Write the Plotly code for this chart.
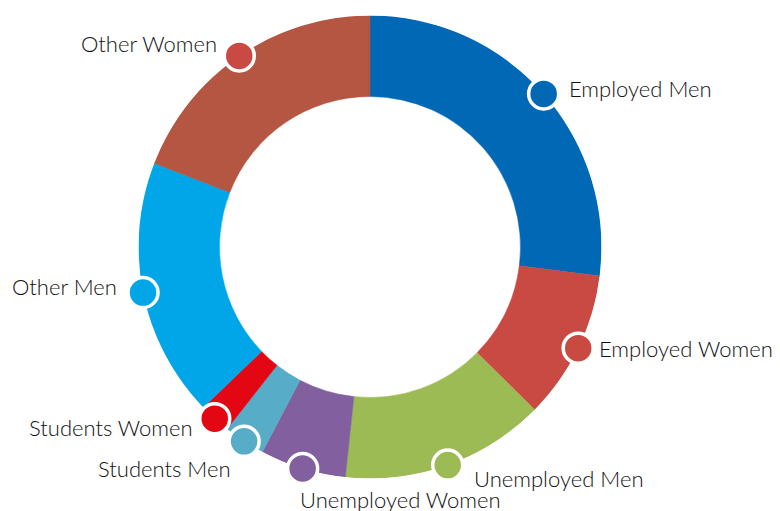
import math
import plotly.graph_objects as go

categories = ["Employed Men", "Employed Women", "Unemployed Men", "Unemployed Women",
              "Students Men", "Students Women", "Other Men", "Other Women"]
values = [27.0, 10.4, 14.3, 6.0, 2.9, 2.2, 18.1, 19.1]

slice_colors = ["#0068b5", "#c84a43", "#9dbb55", "#8260a0",
                "#57acc8", "#e30613", "#00a6e8", "#b45641"]
marker_colors = ["#0068b5", "#c84a43", "#9dbb55", "#8260a0",
                 "#57acc8", "#e30613", "#00a6e8", "#c84a43"]

# label placement style: (xanchor, xshift px, yshift px)
label_style = [("left", 23, 5), ("left", 19, 0), ("left", 24, -13), ("left", -5, -31),
               ("right", -11, -27), ("right", -20, -9), ("right", -24, 6), ("right", -20, 12)]

W, H = 780, 511
CX, CY, R = 370, 247, 231.5
HOLE = 0.65

total = sum(values)
widths = [v / total * 360 for v in values]
mids = []
acc = 0
for w in widths:
    mids.append(acc + w / 2)
    acc += w

fig = go.Figure()
fig.add_trace(go.Barpolar(
    theta=mids, width=widths, r=[1 - HOLE] * len(values), base=HOLE,
    marker=dict(color=slice_colors, line=dict(width=0.5, color=slice_colors)),
    hoverinfo="skip", showlegend=False,
))
fig.add_trace(go.Scatterpolar(
    theta=mids, r=[1] * len(values), mode="markers", cliponaxis=False,
    marker=dict(size=30, color=marker_colors, line=dict(color="white", width=3.5)),
    hoverinfo="skip", showlegend=False,
))

annotations = []
for name, a, (xa, xs, ys) in zip(categories, mids, label_style):
    rad = math.radians(a)
    px = CX + R * math.sin(rad)
    py = CY - R * math.cos(rad)
    annotations.append(dict(
        x=px / W, y=(H - py) / H, xref="paper", yref="paper",
        text=name, showarrow=False, xanchor=xa, yanchor="middle",
        xshift=xs, yshift=ys,
        font=dict(family="Lato", size=22, color="#111111", weight=300),
    ))

fig.update_layout(
    width=W, height=H,
    margin=dict(l=0, r=0, t=0, b=0),
    paper_bgcolor="white",
    polar=dict(
        domain=dict(x=[(CX - R) / W, (CX + R) / W], y=[(H - CY - R) / H, (H - CY + R) / H]),
        bgcolor="white",
        radialaxis=dict(visible=False, range=[0, 1]),
        angularaxis=dict(visible=False, rotation=90, direction="clockwise"),
        bargap=0,
    ),
    annotations=annotations,
    showlegend=False,
)

fig.write_html("out.html", config={"displayModeBar": False},
               post_script="document.body.style.margin='0';document.body.style.overflow='hidden';")
